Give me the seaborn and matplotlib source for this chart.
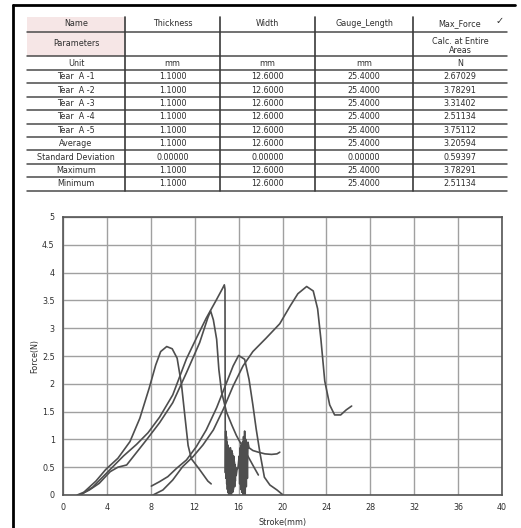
import numpy as np
import pandas as pd
import matplotlib
matplotlib.use("Agg")
import matplotlib.pyplot as plt
import seaborn as sns

# --------------------------------------------------------------------------- #
# Data
# --------------------------------------------------------------------------- #
COLUMNS = ["Name", "Thickness", "Width", "Gauge_Length", "Max_Force"]
UNITS = ["Unit", "mm", "mm", "mm", "N"]
ROW_NAMES = ["Tear  A -1", "Tear  A -2", "Tear  A -3", "Tear  A -4", "Tear  A -5",
             "Average", "Standard Deviation", "Maximum", "Minimum"]
THICKNESS = ["1.1000"] * 6 + ["0.00000", "1.1000", "1.1000"]
WIDTH = ["12.6000"] * 6 + ["0.00000", "12.6000", "12.6000"]
GAUGE = ["25.4000"] * 6 + ["0.00000", "25.4000", "25.4000"]
MAX_FORCE = ["2.67029", "3.78291", "3.31402", "2.51134", "3.75112",
             "3.20594", "0.59397", "3.78291", "2.51134"]

# stroke (mm) / force (N) for each tear specimen
A1_X = [1.3, 1.9, 3.0, 3.9, 5.0, 6.1, 7.0, 7.85, 8.45, 8.9, 9.45, 9.95, 10.4,
        10.8, 11.1, 11.4, 11.7, 12.4, 13.2, 13.5]
A1_Y = [0.0, 0.05, 0.25, 0.46, 0.66, 0.96, 1.38, 1.92, 2.34, 2.58, 2.67, 2.63,
        2.46, 1.98, 1.43, 0.89, 0.65, 0.47, 0.25, 0.2]

A2_X = [1.6, 1.9, 2.7, 3.4, 4.3, 5.5, 6.7, 7.75, 8.8, 10.0, 11.25, 12.15, 13.05,
        13.95, 14.55, 14.7, 14.76, 14.78,
        14.80, 14.83, 14.86, 14.89, 14.92, 14.95, 14.98, 15.01, 15.04, 15.07,
        15.10, 15.13, 15.16, 15.19, 15.22, 15.25, 15.28, 15.31, 15.34, 15.37,
        15.40, 15.43, 15.46, 15.49, 15.52, 15.55, 15.58, 15.61, 15.64, 15.67,
        15.70, 15.73, 15.78, 15.85, 15.95, 16.05, 16.10, 16.15, 16.20, 16.25,
        16.30, 16.35, 16.40, 16.45, 16.50, 16.55, 16.60, 16.65, 16.70, 16.75,
        16.80, 16.85, 16.95, 17.3, 17.8, 18.4, 19.0, 19.5, 19.75]
A2_Y = [0.0, 0.04, 0.14, 0.28, 0.46, 0.70, 0.91, 1.12, 1.40, 1.80, 2.45, 2.82,
        3.18, 3.50, 3.72, 3.78, 3.70, 1.25,
        0.40, 1.15, 0.30, 1.05, 0.20, 0.95, 0.10, 0.90, 0.05, 0.85,
        0.00, 0.80, 0.05, 0.75, 0.00, 0.85, 0.10, 0.70, 0.00, 0.80,
        0.15, 0.75, 0.05, 0.65, 0.10, 0.70, 0.20, 0.60, 0.15, 0.55,
        0.25, 0.50, 0.35, 0.45, 0.50, 0.70, 0.20, 0.85, 0.10, 0.90,
        0.05, 0.95, 0.00, 1.05, 0.10, 1.15, 0.00, 1.00, 0.15, 0.90,
        0.30, 0.95, 0.85, 0.80, 0.77, 0.74, 0.73, 0.74, 0.77]

A3_X = [1.5, 2.4, 3.3, 4.3, 5.0, 5.8, 6.4, 7.6, 8.8, 10.0, 11.25, 12.45, 13.2,
        13.45, 13.7, 14.0, 14.2, 14.45, 14.9, 15.4, 15.8, 16.3, 16.9, 17.4, 17.8]
A3_Y = [0.0, 0.09, 0.21, 0.42, 0.50, 0.54, 0.69, 0.99, 1.30, 1.66, 2.20, 2.74,
        3.19, 3.31, 3.15, 2.80, 2.26, 1.85, 1.49, 1.25, 1.07, 0.89, 0.68, 0.50, 0.36]

A4_X = [8.05, 8.8, 9.55, 10.35, 11.25, 12.15, 13.05, 14.0, 14.9, 15.5, 16.0,
        16.55, 16.95, 17.3, 17.6, 17.95, 18.35, 18.85, 19.5, 20.05]
A4_Y = [0.16, 0.24, 0.33, 0.48, 0.63, 0.87, 1.17, 1.57, 2.02, 2.32, 2.51, 2.44,
        2.08, 1.62, 1.19, 0.75, 0.32, 0.18, 0.09, 0.0]

A5_X = [8.2, 9.1, 10.0, 10.9, 11.85, 12.75, 13.7, 14.6, 15.5, 16.4, 17.3, 18.5,
        19.75, 20.7, 21.4, 22.2, 22.8, 23.2, 23.5, 23.85, 24.3, 24.75, 25.3,
        25.8, 26.3]
A5_Y = [0.0, 0.09, 0.27, 0.51, 0.69, 0.90, 1.17, 1.54, 1.96, 2.32, 2.58, 2.82,
        3.08, 3.40, 3.62, 3.75, 3.67, 3.35, 2.80, 2.05, 1.62, 1.44, 1.44,
        1.53, 1.60]

X_TICKS = list(range(0, 41, 4))
Y_TICKS = [0, 0.5, 1, 1.5, 2, 2.5, 3, 3.5, 4, 4.5, 5]
Y_TICKLABELS = ["0", "0.5", "1", "1.5", "2", "2.5", "3", "3.5", "4", "4.5", "5"]

W, H = 521, 528
INK = "#2e2e2e"
CURVE = "#4e4e4e"
GRID = "#a0a0a0"

sns.set_style("white")
plt.rcParams["font.family"] = ["DejaVu Sans"]


def draw_frame_and_table(tax):
    tax.set_xlim(0, W)
    tax.set_ylim(H, 0)
    tax.axis("off")

    # scan border
    tax.plot([13, 13], [5, H], color="black", lw=2)
    tax.plot([13, 515], [5, 5], color="black", lw=2)

    left, right = 27, 507
    vlines = [125, 220, 315, 413]
    edges = [left] + vlines + [right]
    centres = [(a + b) / 2 for a, b in zip(edges[:-1], edges[1:])]

    tax.fill_between([left, 124], 17, 56, color="#f6e6e6", lw=0)

    fs = 5.8
    # headers
    for c, name in zip(centres, COLUMNS):
        tax.text(c, 24, name, ha="center", va="center", fontsize=fs, color=INK)
    tax.text(500, 21, "\u2713", ha="center", va="center", fontsize=7, color=INK)
    tax.text(centres[0], 44, "Parameters", ha="center", va="center",
             fontsize=fs, color=INK)
    tax.text(centres[4], 46, "Calc. at Entire\nAreas", ha="center", va="center",
             fontsize=fs, color=INK, linespacing=1.1)
    for c, u in zip(centres, UNITS):
        tax.text(c, 63, u, ha="center", va="center", fontsize=fs, color=INK)

    row_h = 13.4
    top = 70
    cols = [ROW_NAMES, THICKNESS, WIDTH, GAUGE, MAX_FORCE]
    for i in range(len(ROW_NAMES)):
        y = top + row_h * (i + 0.5)
        for c, col in zip(centres, cols):
            tax.text(c, y, col[i], ha="center", va="center",
                     fontsize=fs, color=INK)

    hlines = [32, 56, 69.5] + [top + row_h * (i + 1) for i in range(len(ROW_NAMES))]
    for y in hlines:
        tax.plot([left, right], [y, y], color="#4a4a4a", lw=1.1)
    for x in vlines:
        tax.plot([x, x], [17, top + row_h * len(ROW_NAMES)], color="#3a3a3a", lw=1.2)


def main():
    frames = []
    for name, xs, ys in [("A-1", A1_X, A1_Y), ("A-2", A2_X, A2_Y),
                         ("A-3", A3_X, A3_Y), ("A-4", A4_X, A4_Y),
                         ("A-5", A5_X, A5_Y)]:
        frames.append(pd.DataFrame({"stroke": xs, "force": ys, "test": name}))
    df = pd.concat(frames, ignore_index=True)

    fig = plt.figure(figsize=(W / 100, H / 100), dpi=100)
    tax = fig.add_axes([0, 0, 1, 1])
    draw_frame_and_table(tax)

    ax = fig.add_axes([63 / W, 1 - 495 / H, 439 / W, 278 / H])
    sns.lineplot(data=df, x="stroke", y="force", units="test", estimator=None,
                 sort=False, color=CURVE, lw=1.2, ax=ax)

    ax.set_xlim(0, 40)
    ax.set_ylim(0, 5)
    ax.set_xticks(X_TICKS)
    ax.set_yticks(Y_TICKS)
    ax.set_yticklabels(Y_TICKLABELS)
    ax.tick_params(length=0, labelsize=5.8, labelcolor=INK, pad=6)
    ax.grid(True, color=GRID, lw=1.0)
    for s in ax.spines.values():
        s.set_color("#555555")
        s.set_linewidth(1.2)
    ax.set_xlabel("Stroke(mm)", fontsize=5.8, color=INK, labelpad=4)
    ax.set_ylabel("Force(N)", fontsize=5.8, color=INK, labelpad=2)

    fig.savefig("out.png", dpi=100)
    plt.close(fig)


if __name__ == "__main__":
    main()
